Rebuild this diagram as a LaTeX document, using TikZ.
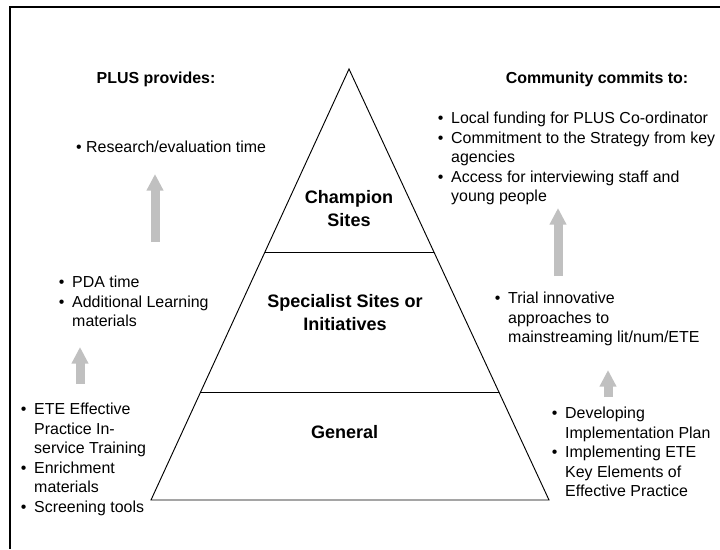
\documentclass[tikz,border=0pt]{standalone}
\usepackage{fontspec}
\setmainfont{Liberation Sans}
\usepackage{xcolor}
\usepackage{tikz}
\usetikzlibrary{arrows.meta,positioning,calc}

\definecolor{arrowgray}{RGB}{192,192,192}
\newcommand{\bulitem}{\makebox[0.4cm][l]{\textbullet}}
\newcommand{\bulcont}{\hspace*{0.4cm}}

\begin{document}
\begin{tikzpicture}[
  list/.style={align=left,anchor=north west,inner sep=0pt,font=\fontsize{13.6}{16.6}\selectfont},
  head/.style={inner sep=0pt,font=\fontsize{13.6}{16.6}\selectfont\bfseries},
  level/.style={align=center,inner sep=0pt,font=\fontsize{15.4}{19.6}\selectfont\bfseries},
  uparrow/.style={arrowgray,line width=2.7mm,-{Triangle[width=4.8mm,length=5mm]}}]
  \useasboundingbox (0,0) rectangle (21.6,-16.47);
  \draw[line width=1.1pt] (21.6,-0.21) -| (0.3,-16.47);

  \coordinate (apex) at (10.47,-2.07);
  \coordinate (baseL) at (4.53,-15);
  \coordinate (baseR) at (16.47,-15);
  \draw[line width=0.8pt] (apex) -- (baseL) -- (baseR) -- cycle;
  \draw[line width=0.8pt] ($(apex)!0.4246!(baseL)$) -- ($(apex)!0.4246!(baseR)$);
  \draw[line width=0.8pt] ($(apex)!0.7494!(baseL)$) -- ($(apex)!0.7494!(baseR)$);

  \node[level] (champion) at (10.47,-6.255) {Champion\\Sites};
  \node[level] (specialist) at (10.35,-9.39) {Specialist Sites or\\Initiatives};
  \node[level] (general) at (10.34,-12.96) {General};

  \node[head] (plus) at (4.68,-2.37) {PLUS provides:};
  \node[head] (community) at (17.91,-2.37) {Community commits to:};

  \node[list] (research) at (2.28,-4.23) {\textbullet\ Research/evaluation time};
  \node[list] (pda) at (1.76,-8.28)
    {\bulitem PDA time\\\bulitem Additional Learning\\\bulcont materials};
  \node[list] (ete) at (0.62,-12.09)
    {\bulitem ETE Effective\\\bulcont Practice In-\\\bulcont service Training\\
     \bulitem Enrichment\\\bulcont materials\\\bulitem Screening tools};
  \node[list] (local) at (13.13,-3.36)
    {\bulitem Local funding for PLUS Co-ordinator\\
     \bulitem Commitment to the Strategy from key\\\bulcont agencies\\
     \bulitem Access for interviewing staff and\\\bulcont young people};
  \node[list] (trial) at (14.84,-8.76)
    {\bulitem Trial innovative\\\bulcont approaches to\\\bulcont mainstreaming lit/num/ETE};
  \node[list] (develop) at (16.55,-12.21)
    {\bulitem Developing\\\bulcont Implementation Plan\\\bulitem Implementing ETE\\
     \bulcont Key Elements of\\\bulcont Effective Practice};

  \coordinate (l1a) at (4.65,-7.26);
  \coordinate (l1b) at (4.65,-5.22);
  \coordinate (l2a) at (2.4,-11.52);
  \coordinate (l2b) at (2.4,-10.41);
  \coordinate (r1a) at (16.74,-8.28);
  \coordinate (r1b) at (16.74,-6.24);
  \coordinate (r2a) at (18.24,-11.91);
  \coordinate (r2b) at (18.24,-11.1);
  \draw[uparrow] (l1a) -- (l1b);
  \draw[uparrow] (l2a) -- (l2b);
  \draw[uparrow] (r1a) -- (r1b);
  \draw[uparrow] (r2a) -- (r2b);
\end{tikzpicture}
\end{document}
